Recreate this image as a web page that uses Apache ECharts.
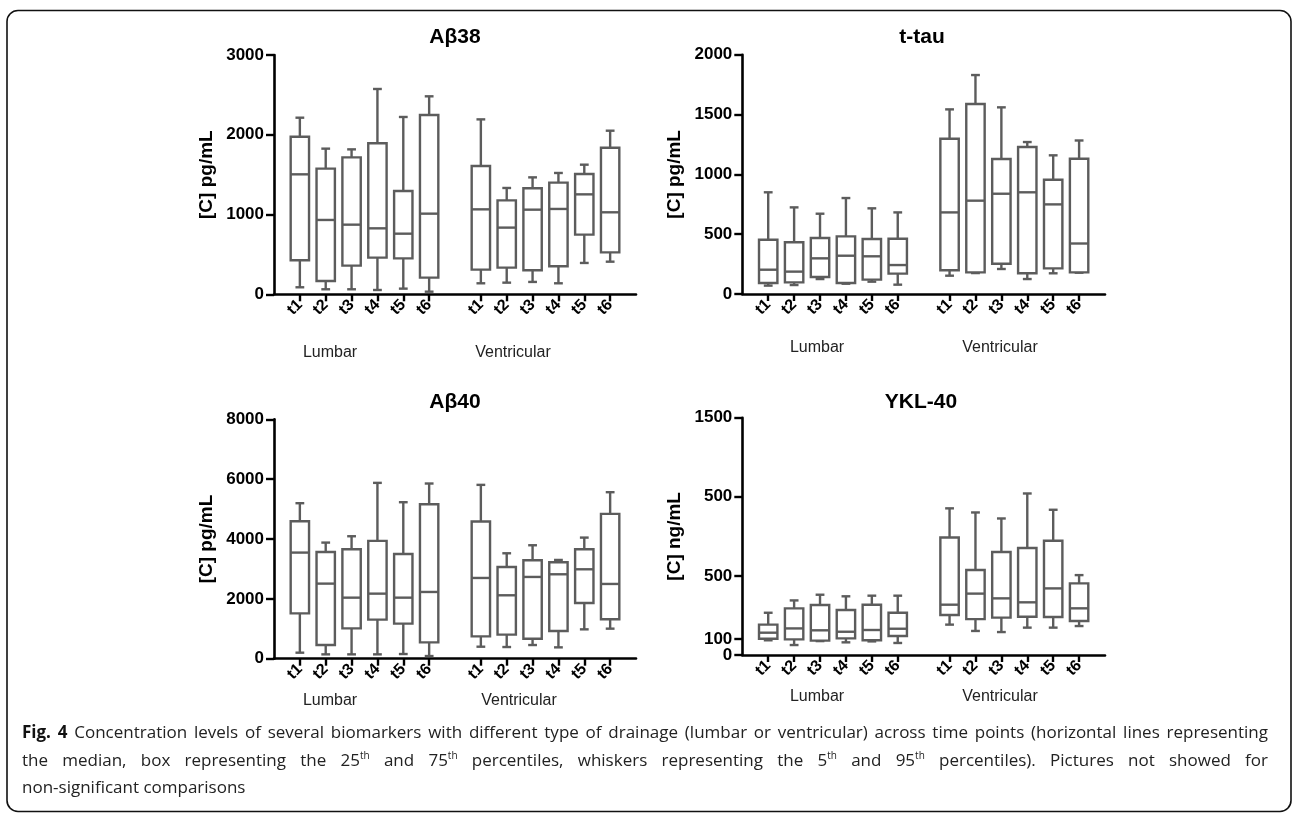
<!DOCTYPE html>
<html><head><meta charset="utf-8">
<script src="https://cdn.jsdelivr.net/npm/echarts@6/dist/echarts.min.js"></script>
<style>html,body{margin:0;padding:0;background:#fff}#c{width:1292px;height:816px}</style>
</head><body><div id="c"></div>
<script>
// ---- data ----
const timePoints = ['t1', 't2', 't3', 't4', 't5', 't6'];
const groups = ['Lumbar', 'Ventricular'];
const panelTitles = ['Aβ38', 't-tau', 'Aβ40', 'YKL-40'];
const yAxisNames = ['[C] pg/mL', '[C] pg/mL', '[C] pg/mL', '[C] ng/mL'];
// each row: [5th pct, 25th pct, median, 75th pct, 95th pct]
const ab38Lumbar = [
  [88, 426, 1504, 1976, 2214],
  [63, 167, 932, 1575, 1826],
  [63, 359, 873, 1717, 1817],
  [54, 460, 827, 1893, 2574],
  [71, 451, 760, 1295, 2223],
  [33, 209, 1011, 2248, 2482]
];
const ab38Ventricular = [
  [138, 309, 1065, 1609, 2193],
  [146, 334, 836, 1178, 1333],
  [155, 301, 1061, 1329, 1466],
  [138, 351, 1070, 1400, 1521],
  [393, 748, 1253, 1508, 1625],
  [409, 526, 1028, 1838, 2051]
];
const ttauLumbar = [
  [70, 92, 203, 454, 850],
  [75, 97, 187, 432, 724],
  [125, 142, 298, 468, 671],
  [86, 92, 320, 482, 802],
  [103, 120, 315, 460, 716],
  [78, 170, 242, 462, 682]
];
const ttauVentricular = [
  [153, 198, 682, 1298, 1543],
  [175, 181, 780, 1588, 1830],
  [209, 253, 838, 1128, 1560],
  [125, 173, 850, 1228, 1270],
  [173, 214, 749, 955, 1159],
  [178, 181, 422, 1131, 1283]
];
const ab40Lumbar = [
  [201, 1516, 3546, 4594, 5196],
  [145, 457, 2509, 3568, 3880],
  [145, 1015, 2040, 3657, 4092],
  [145, 1305, 2174, 3936, 5876],
  [156, 1171, 2040, 3501, 5229],
  [89, 546, 2230, 5162, 5854]
];
const ab40Ventricular = [
  [401, 747, 2698, 4583, 5809],
  [390, 803, 2119, 3066, 3523],
  [457, 669, 2732, 3289, 3791],
  [379, 925, 2821, 3222, 3300],
  [981, 1862, 2988, 3657, 4047],
  [1004, 1316, 2498, 4839, 5564]
];
const yklLumbar = [
  [93, 103, 141, 192, 267],
  [63, 99, 168, 295, 345],
  [88, 91, 156, 316, 381],
  [80, 105, 147, 284, 371],
  [86, 93, 158, 318, 375],
  [76, 120, 166, 267, 375]
];
const yklVentricular = [
  [192, 253, 318, 743, 927],
  [152, 227, 388, 537, 901],
  [145, 236, 358, 651, 863],
  [173, 242, 333, 676, 1021],
  [173, 240, 421, 722, 918],
  [183, 215, 295, 453, 505]
];
const ab38Ticks = [0, 1000, 2000, 3000];
const ttauTicks = [0, 500, 1000, 1500, 2000];
const ab40Ticks = [0, 2000, 4000, 6000, 8000];
const yklTickValues = [0, 100, 500, 1000, 1500];
const yklTickLabels = ['0', '100', '500', '500', '1500'];
const captionLines = [
  '{b|Fig. 4} Concentration levels of several biomarkers with different type of drainage (lumbar or ventricular) across time points (horizontal lines representing',
  'the median, box representing the 25{s|th} and 75{s|th} percentiles, whiskers representing the 5{s|th} and 95{s|th} percentiles). Pictures not showed for',
  'non-significant comparisons'
];

// ---- build ----
const FONT = '"Liberation Sans", Arial, Helvetica, sans-serif';
const CAP_FONT = '"Open Sans", "Noto Sans", sans-serif';
const CAP_SIZE = 17, SUP_SIZE = 10;
const BOX = '#5c5c5c';
const xCats = ['_s']
  .concat(timePoints.map(t => groups[0] + ' ' + t))
  .concat(['_g'])
  .concat(timePoints.map(t => groups[1] + ' ' + t))
  .concat(['_e']);

function toItems(lumbar, ventricular) {
  const out = [];
  [lumbar, ventricular].forEach((arr, gi) => {
    arr.forEach((s, ti) => {
      out.push([xCats.indexOf(groups[gi] + ' ' + timePoints[ti])].concat(s));
    });
  });
  return out;
}
const panelData = [
  toItems(ab38Lumbar, ab38Ventricular),
  toItems(ttauLumbar, ttauVentricular),
  toItems(ab40Lumbar, ab40Ventricular),
  toItems(yklLumbar, yklVentricular)
];
const tickSets = [ab38Ticks, ttauTicks, ab40Ticks, yklTickValues];

function renderBox(params, api) {
  const xi = api.value(0);
  const p = [1, 2, 3, 4, 5].map(d => api.coord([xi, api.value(d)]));
  const cx = p[0][0];
  const band = api.size([1, 0])[0];
  const bw = band * 0.71, cw = band * 0.34;
  const st = { stroke: BOX, lineWidth: 2.4, fill: null };
  return {
    type: 'group',
    children: [
      { type: 'line', shape: { x1: cx, y1: p[4][1], x2: cx, y2: p[3][1] }, style: st },
      { type: 'line', shape: { x1: cx, y1: p[1][1], x2: cx, y2: p[0][1] }, style: st },
      { type: 'line', shape: { x1: cx - cw / 2, y1: p[4][1], x2: cx + cw / 2, y2: p[4][1] }, style: st },
      { type: 'line', shape: { x1: cx - cw / 2, y1: p[0][1], x2: cx + cw / 2, y2: p[0][1] }, style: st },
      { type: 'rect', shape: { x: cx - bw / 2, y: p[3][1], width: bw, height: p[1][1] - p[3][1] },
        style: { stroke: BOX, lineWidth: 2.4, fill: '#fff' } },
      { type: 'line', shape: { x1: cx - bw / 2, y1: p[2][1], x2: cx + bw / 2, y2: p[2][1] }, style: st }
    ]
  };
}

const grids = [
  { left: 274, top: 55, width: 362, height: 239.3 },
  { left: 742.3, top: 54.7, width: 362.7, height: 239.3 },
  { left: 274, top: 419.3, width: 362, height: 239.4 },
  { left: 742.3, top: 417.7, width: 362.7, height: 237.3 }
];

const xAxes = grids.map((g, i) => ({
  type: 'category', gridIndex: i, data: xCats, boundaryGap: false,
  axisLine: { lineStyle: { color: '#000', width: 2.6 } },
  axisTick: { length: 7, lineStyle: { color: '#000', width: 2.4 },
    interval: (idx, v) => v[0] !== '_' },
  axisLabel: { interval: 0, rotate: 45, margin: 8, color: '#000', fontWeight: 'bold',
    fontSize: 16, fontFamily: FONT,
    formatter: v => v[0] === '_' ? '' : v.split(' ')[1] },
  splitLine: { show: false }
}));

const labelStyle = { margin: 10, color: '#000', fontWeight: 'bold', fontSize: 17, fontFamily: FONT,
  showMinLabel: true, showMaxLabel: true, hideOverlap: false };
const yklLabel = v => {
  const k = yklTickValues.indexOf(v);
  return k < 0 ? '' : yklTickLabels[k];
};

const yAxes = grids.map((g, i) => {
  const ticks = tickSets[i];
  const ax = {
    type: 'value', gridIndex: i, position: 'left', min: ticks[0], max: ticks[ticks.length - 1],
    name: yAxisNames[i], nameLocation: 'middle', nameGap: 58,
    nameTextStyle: { color: '#000', fontWeight: 'bold', fontSize: 19, fontFamily: FONT },
    axisLine: { show: true, lineStyle: { color: '#000', width: 2.6 } },
    axisTick: { show: true, length: 8, lineStyle: { color: '#000', width: 2.4 } },
    axisLabel: Object.assign({}, labelStyle, { formatter: v => String(v) }),
    splitLine: { show: false }
  };
  if (i === 3) {
    ax.interval = 100;
    ax.axisTick.customValues = yklTickValues;
    // the "0" label is drawn by a companion axis so it is not dropped for overlapping "100"
    ax.axisLabel.customValues = yklTickValues.slice(1);
    ax.axisLabel.showMinLabel = null;
    ax.axisLabel.formatter = yklLabel;
  } else {
    ax.interval = ticks[1] - ticks[0];
  }
  return ax;
});
// companion axis for the YKL-40 panel carrying only its bottom label
yAxes.push({
  type: 'value', gridIndex: 3, position: 'left', offset: 0,
  min: yklTickValues[0], max: yklTickValues[yklTickValues.length - 1],
  interval: 100, axisLine: { show: false, onZero: false }, axisTick: { show: false }, splitLine: { show: false },
  axisLabel: Object.assign({}, labelStyle, { customValues: yklTickValues.slice(0, 1), formatter: yklLabel })
});

const series = panelData.map((d, i) => ({
  type: 'custom', xAxisIndex: i, yAxisIndex: i, data: d,
  encode: { x: 0, y: [1, 2, 3, 4, 5] }, renderItem: renderBox, clip: false, silent: true
}));

const titleCenters = [[455, 27], [922, 27], [455, 392], [921, 392]];
const titles = panelTitles.map((t, i) => ({
  text: t, left: titleCenters[i][0], top: titleCenters[i][1], textAlign: 'center', padding: 0,
  textStyle: { color: '#000', fontWeight: 'bold', fontSize: 21, fontFamily: FONT }
}));

const groupLabelPos = [
  [[330, 353], [513, 353]],
  [[817, 348], [1000, 348]],
  [[330, 701], [519, 701]],
  [[817, 697], [1000, 697]]
];
const graphics = [];
groupLabelPos.forEach(pair => pair.forEach((p, gi) => {
  graphics.push({ type: 'text', x: p[0], y: p[1], silent: true,
    style: { text: groups[gi], fill: '#222', font: '16px ' + FONT, align: 'center', verticalAlign: 'middle' } });
}));
graphics.push({ type: 'rect', silent: true, shape: { x: 7, y: 10.5, width: 1284, height: 801, r: 11 },
  style: { fill: null, stroke: '#111', lineWidth: 1.6 } });

// caption: justified word by word
const mctx = document.createElement('canvas').getContext('2d');
function measure(str, size, weight) {
  mctx.font = (weight || 'normal') + ' ' + size + 'px ' + CAP_FONT;
  return mctx.measureText(str).width;
}
function wordWidth(w) {
  let total = 0;
  const re = /\{(\w)\|([^}]*)\}|([^{]+)/g;
  let m;
  while ((m = re.exec(w))) {
    if (m[3]) total += measure(m[3], CAP_SIZE);
    else if (m[1] === 's') total += measure(m[2], SUP_SIZE);
    else total += measure(m[2], CAP_SIZE, 'bold');
  }
  return total;
}
const capY = [733, 761, 788];
const capLeft = 22, capRight = 1268;
const capRich = {
  b: { fontWeight: 'bold', fontSize: CAP_SIZE, fontFamily: CAP_FONT, fill: '#111' },
  s: { fontSize: SUP_SIZE, fontFamily: CAP_FONT, padding: [0, 0, 9, 0] }
};
captionLines.forEach((ln, i) => {
  const words = ln.replace('{b|Fig. 4}', '{b|Fig.} {b|4}').split(' ');
  const widths = words.map(wordWidth);
  const sum = widths.reduce((a, b) => a + b, 0);
  const justify = i < captionLines.length - 1;
  const gap = justify ? (capRight - capLeft - sum) / (words.length - 1) : measure(' ', CAP_SIZE);
  let x = capLeft;
  words.forEach((w, k) => {
    graphics.push({ type: 'text', x: x, y: capY[i], silent: true,
      style: { text: w, fill: '#222', fontSize: CAP_SIZE, fontFamily: CAP_FONT,
        verticalAlign: 'middle', align: 'left', rich: capRich } });
    x += widths[k] + gap;
  });
});

const chart = echarts.init(document.getElementById('c'), null, { renderer: 'canvas' });
chart.setOption({
  animation: false,
  backgroundColor: '#fff',
  title: titles,
  grid: grids,
  xAxis: xAxes,
  yAxis: yAxes,
  series: series,
  graphic: graphics
});
</script></body></html>
